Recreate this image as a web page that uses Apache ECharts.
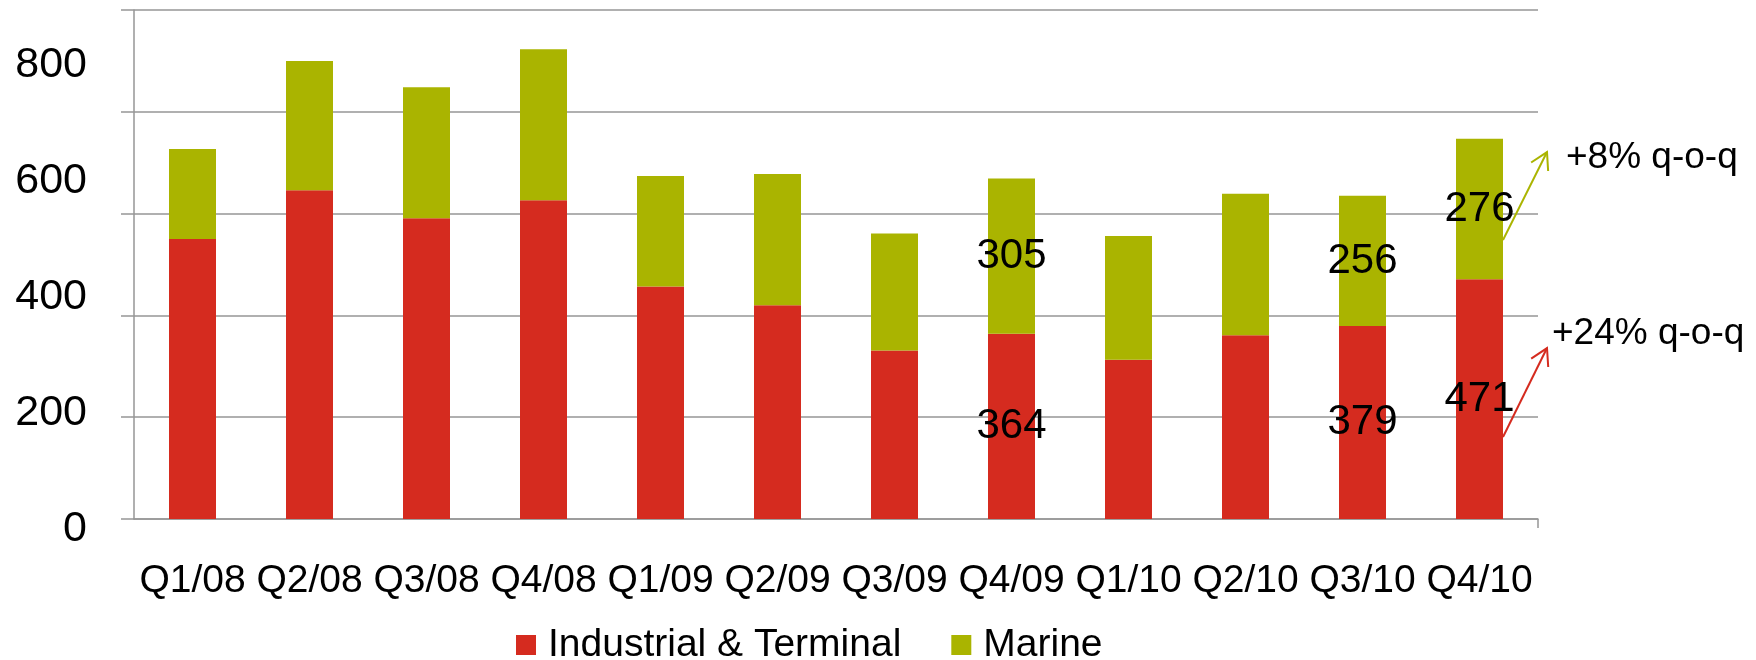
<!DOCTYPE html>
<html>
<head>
<meta charset="utf-8">
<script src="https://cdn.jsdelivr.net/npm/echarts@6/dist/echarts.min.js"></script>
<style>
html, body { margin: 0; padding: 0; background: #fff; }
#chart { width: 1756px; height: 660px; }
</style>
</head>
<body>
<div id="chart"></div>
<script>
const quarters = ['Q1/08', 'Q2/08', 'Q3/08', 'Q4/08', 'Q1/09', 'Q2/09', 'Q3/09', 'Q4/09', 'Q1/10', 'Q2/10', 'Q3/10', 'Q4/10'];
const industrial = [550, 646, 591, 626, 457, 420, 331, 364, 313, 361, 379, 471];
const marine = [177, 254, 257, 297, 217, 258, 230, 305, 243, 278, 256, 276];
// only these quarters carry value labels in the original
const labelled = [7, 10, 11];
const yTickLabels = [0, 200, 400, 600, 800];
const notes = ['+8% q-o-q', '+24% q-o-q'];

const FONT = 'Liberation Sans, Arial, sans-serif';
const RED = '#D52B1F';
const OLIVE = '#AAB400';
const LINE = '#969696';

function withLabels(values) {
    return values.map((v, i) => labelled.includes(i)
        ? { value: v, label: { show: true } }
        : v);
}

const chart = echarts.init(document.getElementById('chart'));

const segLabel = {
    show: false,
    position: 'inside',
    color: '#000',
    fontSize: 42,
    fontFamily: FONT
};

chart.setOption({
    animation: false,
    textStyle: { fontFamily: FONT },
    grid: [
        { left: 134, right: 218, top: 10, bottom: 141 },
        // label-only grid: the tick labels in the source sit off the gridlines
        { left: 134, right: 218, top: 65, bottom: 131 }
    ],
    legend: {
        left: 511,
        top: 617,
        itemWidth: 20,
        itemHeight: 20,
        itemGap: 50,
        icon: 'rect',
        textStyle: { fontSize: 39, color: '#000', fontFamily: FONT, lineHeight: 46, padding: [0, 0, 0, 7] },
        data: ['Industrial & Terminal', 'Marine']
    },
    xAxis: [{
        type: 'category',
        gridIndex: 0,
        data: quarters,
        axisLine: { lineStyle: { color: LINE, width: 1.5 } },
        axisTick: { alignWithLabel: true, length: 9, lineStyle: { color: LINE, width: 1.5 } },
        axisLabel: { color: '#000', fontSize: 39, margin: 43, lineHeight: 39, fontFamily: FONT, interval: 0 }
    }, {
        type: 'category',
        gridIndex: 1,
        data: quarters,
        show: false
    }],
    yAxis: [{
        type: 'value',
        gridIndex: 0,
        min: 0,
        max: 1000,
        interval: 200,
        axisLine: { show: true, lineStyle: { color: LINE, width: 1.5 } },
        axisTick: { show: true, length: 13, lineStyle: { color: LINE, width: 1.5 } },
        axisLabel: { show: false },
        splitLine: { lineStyle: { color: LINE, width: 1.5 } }
    }, {
        type: 'value',
        gridIndex: 1,
        min: yTickLabels[0],
        max: yTickLabels[yTickLabels.length - 1],
        interval: 200,
        axisLine: { show: false },
        axisTick: { show: false },
        splitLine: { show: false },
        axisLabel: { color: '#000', fontSize: 43, margin: 47, fontFamily: FONT }
    }],
    series: [{
        name: 'Industrial & Terminal',
        type: 'bar',
        stack: 'total',
        barWidth: 47,
        itemStyle: { color: RED },
        label: segLabel,
        data: withLabels(industrial)
    }, {
        name: 'Marine',
        type: 'bar',
        stack: 'total',
        barWidth: 47,
        itemStyle: { color: OLIVE },
        label: segLabel,
        data: withLabels(marine)
    }]
});

// growth arrows next to the last bar
function arrow(x0, y0, x1, y1, color) {
    const dx = x1 - x0, dy = y1 - y0;
    const len = Math.sqrt(dx * dx + dy * dy);
    const bx = -dx / len, by = -dy / len;
    const c = Math.cos(Math.PI / 6), s = Math.sin(Math.PI / 6), w = 19;
    const p1 = [x1 + w * (bx * c - by * s), y1 + w * (bx * s + by * c)];
    const p2 = [x1 + w * (bx * c + by * s), y1 + w * (-bx * s + by * c)];
    const st = { stroke: color, lineWidth: 2, fill: null };
    return [
        { type: 'line', shape: { x1: x0, y1: y0, x2: x1, y2: y1 }, style: st },
        { type: 'polyline', shape: { points: [p1, [x1, y1], p2] }, style: st }
    ];
}

const last = quarters.length - 1;
const edge = chart.convertToPixel({ xAxisIndex: 0 }, quarters[last]) + 23.5;
const yMar = chart.convertToPixel({ yAxisIndex: 0 }, 548);
const yInd = chart.convertToPixel({ yAxisIndex: 0 }, 161);
const yBase = chart.convertToPixel({ yAxisIndex: 0 }, 0);
const xEnd = 1756 - 218;

const noteStyle = { fill: '#000', fontSize: 37, fontFamily: FONT, textVerticalAlign: 'middle' };
chart.setOption({
    graphic: [
        // closing tick at the right end of the category axis
        { type: 'line', shape: { x1: xEnd, y1: yBase, x2: xEnd, y2: yBase + 9 }, style: { stroke: LINE, lineWidth: 1.5 } },
        ...arrow(edge, yMar, edge + 44, yMar - 88, OLIVE),
        ...arrow(edge, yInd, edge + 44, yInd - 89, RED),
        { type: 'text', x: edge + 63, y: yMar - 82, style: Object.assign({ text: notes[0] }, noteStyle) },
        { type: 'text', x: edge + 49, y: yInd - 103, style: Object.assign({ text: notes[1] }, noteStyle) }
    ]
});
</script>
</body>
</html>
